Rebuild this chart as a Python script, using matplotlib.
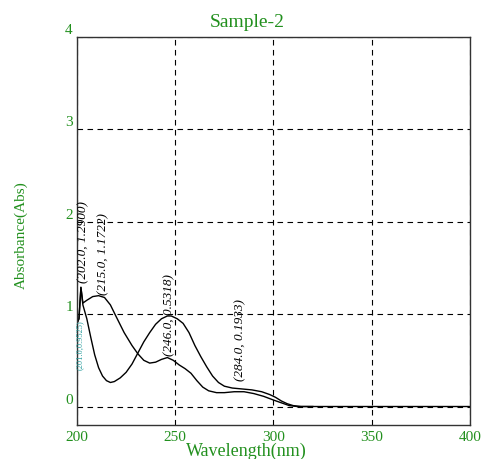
import matplotlib
matplotlib.use("Agg")
import matplotlib.pyplot as plt

# 曲线数据 (波长 nm, 吸光度)
wl_a = [200, 201, 202, 203, 205, 208, 211, 214, 217, 220, 224, 228, 231, 234, 237,
        240, 243, 246, 249, 252, 255, 258, 261, 264, 267, 271, 275, 280, 285, 290,
        295, 300, 304, 308, 312, 320, 400]
abs_a = [0.90, 0.95, 1.29, 1.12, 1.15, 1.19, 1.20, 1.18, 1.10, 0.97, 0.80, 0.66, 0.57, 0.50, 0.47,
         0.48, 0.51, 0.53, 0.50, 0.45, 0.41, 0.36, 0.28, 0.21, 0.17, 0.15, 0.15, 0.16, 0.16, 0.14,
         0.11, 0.07, 0.04, 0.01, 0.0, 0.0, 0.0]

wl_b = [200, 201, 202, 203, 205, 207, 209, 211, 213, 215, 217, 219, 222, 225, 228,
        231, 234, 237, 240, 243, 246, 248, 251, 254, 257, 260, 263, 266, 269, 272,
        275, 279, 284, 289, 294, 298, 301, 304, 307, 310, 314, 320]
abs_b = [0.90, 0.95, 1.29, 1.10, 0.95, 0.75, 0.56, 0.42, 0.33, 0.28, 0.26, 0.27, 0.31, 0.37, 0.46,
         0.58, 0.70, 0.80, 0.89, 0.95, 0.98, 0.98, 0.95, 0.90, 0.80, 0.66, 0.54, 0.43, 0.33, 0.26,
         0.22, 0.20, 0.19, 0.18, 0.16, 0.13, 0.10, 0.06, 0.03, 0.01, 0.0, 0.0]

# 峰值标注
peak_x = [202.0, 215.0, 246.0, 284.0]
peak_y = [1.2900, 1.1722, 0.5318, 0.1933]
small_peak = (201.0, 0.9525)

x_ticks = [200, 250, 300, 350, 400]
y_ticks = [0, 1, 2, 3, 4]

green = "#22901e"
plt.rcParams['font.family'] = ['Liberation Serif', 'DejaVu Serif']

fig = plt.figure(figsize=(4.83, 4.59), dpi=100)
ax = fig.add_axes([0.1594, 0.0741, 0.8137, 0.8453])

ax.plot(wl_a, abs_a, color="black", lw=1.0)
ax.plot(wl_b, abs_b, color="black", lw=1.0)

ax.set_xlim(200, 400)
ax.set_ylim(-0.2, 4)
ax.set_xticks(x_ticks)
ax.set_yticks(y_ticks)
ax.tick_params(length=0, labelsize=11, labelcolor=green)
ax.tick_params(axis="x", pad=4)
ax.tick_params(axis="y", pad=3)
for lab in ax.get_yticklabels():
    lab.set_va("bottom")
ax.grid(True, color="black", linestyle=(0, (5, 4)), lw=0.8)
for sp in ax.spines.values():
    sp.set_color("#333333")
    sp.set_linewidth(1.0)

ax.set_xlabel("Wavelength(nm)", fontsize=13, color=green, va="center")
ax.xaxis.set_label_coords(0.43, -0.068)
ax.set_ylabel("Absorbance(Abs)", fontsize=11, color=green, va="center")
ax.yaxis.set_label_coords(-0.142, 0.49)
fig.text(0.511, 0.952, "Sample-2", fontsize=14, color=green, ha="center", va="center")

dxs = [1.0, -1.8, 1.0, -1.0]
dys = [0.05, 0.04, 0.01, 0.08]
for px, py, dx, dy in zip(peak_x, peak_y, dxs, dys):
    ax.text(px + dx, py + dy, f"({px:.1f}, {py:.4f})", rotation=90, fontsize=9.5,
            style="italic", ha="center", va="bottom")
ax.text(small_peak[0] + 0.2, small_peak[1] - 0.02, f"({small_peak[0]:.1f},{small_peak[1]:.4f})",
        rotation=90, fontsize=6, color="#2a9d9d", ha="center", va="top")

fig.savefig("out.png", dpi=100)
